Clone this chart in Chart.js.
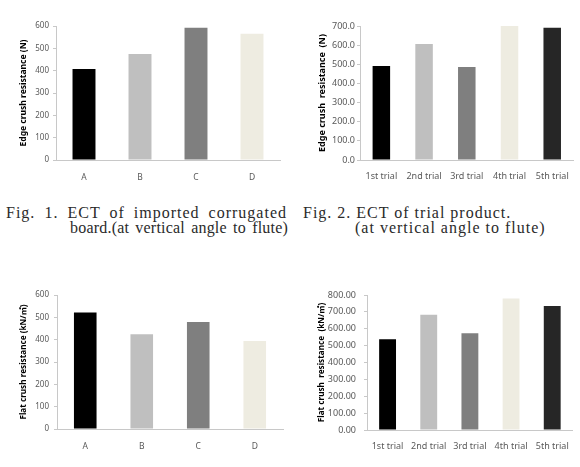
<!DOCTYPE html>
<html><head><meta charset="utf-8">
<script src="https://cdn.jsdelivr.net/npm/chart.js@4/dist/chart.umd.min.js"></script>
<style>
body{margin:0;background:#fff;width:580px;height:467px;overflow:hidden;position:relative}
canvas{position:absolute}
.cap{position:absolute;font-family:"Liberation Serif",serif;font-size:16px;line-height:15px;color:#2a2a2a;white-space:nowrap;letter-spacing:1px}
.just{text-align:justify;text-align-last:justify;white-space:normal}
</style></head><body>
<canvas id="c1" width="290" height="200" style="left:0;top:0"></canvas>
<canvas id="c2" width="290" height="200" style="left:290px;top:0"></canvas>
<canvas id="c3" width="290" height="187" style="left:0;top:280px"></canvas>
<canvas id="c4" width="290" height="187" style="left:290px;top:280px"></canvas>
<div class="cap just" style="left:6px;top:205px;width:281px">Fig. 1. ECT of imported corrugated</div>
<div class="cap just" style="left:70px;top:220px;width:218px;letter-spacing:0.2px">board.(at vertical angle to flute)</div>
<div class="cap" style="left:303px;top:205px">Fig. 2. ECT of trial product.</div>
<div class="cap" style="left:355px;top:220px">(at vertical angle to flute)</div>
<script>
// ---- data ----
const importedCategories = ['A', 'B', 'C', 'D'];
const trialCategories = ['1st trial', '2nd trial', '3rd trial', '4th trial', '5th trial'];
const ectImportedValues = [407, 475, 592, 565];
const ectTrialValues = [491, 606, 486, 700, 691];
const fctImportedValues = [522, 424, 479, 394];
const fctTrialValues = [538, 683, 574, 780, 735];
const ectImportedTitle = 'Edge crush resistance (N)';
const ectTrialTitle = 'Edge crush  resistance  (N)';
const fctImportedTitle = 'Flat crush resistance (kN/㎡)';
const fctTrialTitle = 'Flat crush  resistance  (kN/㎡)';
// ---- styles ----
const importedColors = ['#000000', '#bfbfbf', '#7f7f7f', '#eeece1'];
const trialColors = ['#000000', '#bfbfbf', '#7f7f7f', '#eeece1', '#262626'];
const FONT = '"Noto Sans", "Noto Sans CJK KR", sans-serif';

function makeChart(id, labels, values, colors, o) {
  const lh = o.titleSize * 1.2;
  const padLeft = o.titleCenter - lh / 2;
  new Chart(document.getElementById(id), {
    type: 'bar',
    data: { labels, datasets: [{ data: values, backgroundColor: colors, borderWidth: 0,
      categoryPercentage: 1, barPercentage: o.barPct }] },
    options: {
      responsive: false, animation: false,
      layout: { padding: { left: padLeft, right: o.W - o.right, top: o.top, bottom: 0 } },
      plugins: { legend: { display: false }, tooltip: { enabled: false } },
      scales: {
        x: {
          grid: { display: false, drawTicks: false },
          border: { display: true, color: '#c8c8c8', width: 1 },
          ticks: { color: '#595959', font: { family: FONT, size: o.xSize }, padding: o.xPad, maxRotation: 0 },
          afterFit: s => { s.height = o.H - o.bottom; }
        },
        y: {
          min: 0, max: o.yMax,
          grid: { display: true, drawOnChartArea: false, drawTicks: true, tickLength: 3, color: '#c8c8c8' },
          border: { display: true, color: '#c8c8c8', width: 1 },
          ticks: { stepSize: o.step, color: '#595959', font: { family: FONT, size: o.ySize }, padding: o.yPad,
            callback: v => Number(v).toFixed(o.dec) },
          title: { display: true, text: o.title, color: '#000', padding: 0,
            font: { family: FONT, size: o.titleSize, weight: 'bold' } },
          afterFit: s => { s.width = o.left - padLeft; }
        }
      }
    }
  });
}

makeChart('c1', importedCategories, ectImportedValues, importedColors,
  { W: 290, H: 200, left: 56, right: 280, top: 26, bottom: 160, yMax: 600, step: 100, dec: 0,
    title: ectImportedTitle, titleSize: 8.5, titleCenter: 24, ySize: 8, xSize: 8.5, yPad: 4, xPad: 12, barPct: 0.41 });
makeChart('c2', trialCategories, ectTrialValues, trialColors,
  { W: 290, H: 200, left: 70, right: 287, top: 26, bottom: 160, yMax: 700, step: 100, dec: 1,
    title: ectTrialTitle, titleSize: 9, titleCenter: 32, ySize: 9, xSize: 9, yPad: 2, xPad: 11, barPct: 0.41 });
makeChart('c3', importedCategories, fctImportedValues, importedColors,
  { W: 290, H: 187, left: 57, right: 283, top: 15, bottom: 149, yMax: 600, step: 100, dec: 0,
    title: fctImportedTitle, titleSize: 8.2, titleCenter: 24, ySize: 8, xSize: 8.5, yPad: 5, xPad: 12, barPct: 0.4 });
makeChart('c4', trialCategories, fctTrialValues, trialColors,
  { W: 290, H: 187, left: 77, right: 287, top: 15, bottom: 150, yMax: 800, step: 100, dec: 2,
    title: fctTrialTitle, titleSize: 8.2, titleCenter: 32, ySize: 9, xSize: 9, yPad: 8, xPad: 11, barPct: 0.41 });
</script>
</body></html>
